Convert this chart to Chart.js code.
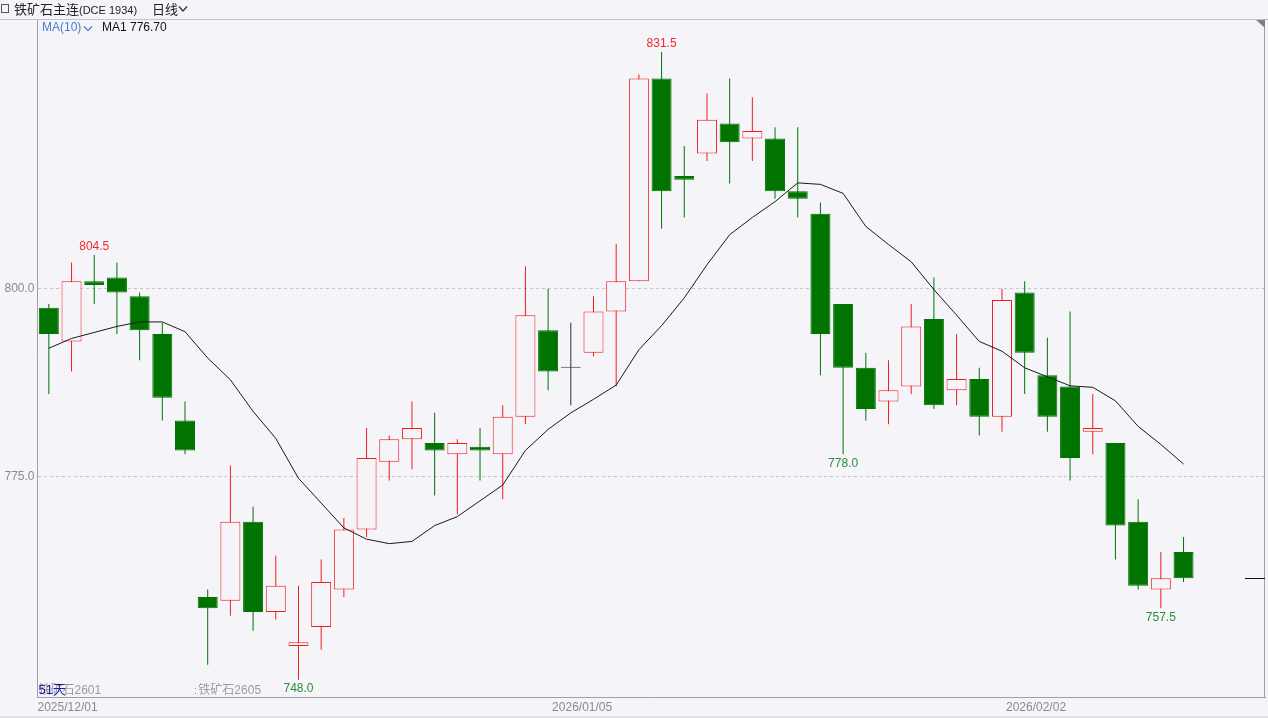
<!DOCTYPE html>
<html><head><meta charset="utf-8">
<script src="https://cdn.jsdelivr.net/npm/chart.js@4.4.1/dist/chart.umd.min.js"></script>
<style>
html,body{margin:0;padding:0;background:#e2e2e6;overflow:hidden;}
#wrap{position:relative;width:1268px;height:716px;background:#f4f4f9;}
#c{position:absolute;left:0;top:0;}
.t{position:absolute;white-space:nowrap;line-height:16px;}
.cjk{font:13px "Noto Sans CJK SC",sans-serif;color:#222;}
.lat{font:12px "Liberation Sans",Arial,sans-serif;}
</style></head>
<body>
<div id="wrap">
<canvas id="c" width="1268" height="716"></canvas>
<div class="t" style="left:1px;top:4px;width:6px;height:7px;border:1px solid #555;box-sizing:content-box;"></div>
<div class="t cjk" style="left:14px;top:-1px;">铁矿石主连</div>
<div class="t" style="left:79px;top:4px;font:11px 'Liberation Sans',Arial,sans-serif;color:#222;">(DCE 1934)</div>
<div class="t cjk" style="left:152px;top:-1px;">日线</div>
<svg style="position:absolute;left:178px;top:5px" width="10" height="8"><polyline points="1,1.5 5,6 9,1.5" fill="none" stroke="#333" stroke-width="1.3"/></svg>
<div class="t lat" style="left:42px;top:20px;color:#4a7bd6;">MA(10)</div>
<svg style="position:absolute;left:83px;top:25px" width="10" height="7"><polyline points="1,1.5 5,5.5 9,1.5" fill="none" stroke="#4a7bd6" stroke-width="1.2"/></svg>
<div class="t lat" id="maval" style="left:102px;top:20px;color:#111;"></div>
</div>
<script>
const dates = ['2025/12/01','2025/12/02','2025/12/03','2025/12/04','2025/12/05','2025/12/08','2025/12/09','2025/12/10','2025/12/11','2025/12/12',
'2025/12/15','2025/12/16','2025/12/17','2025/12/18','2025/12/19','2025/12/22','2025/12/23','2025/12/24','2025/12/25','2025/12/26',
'2025/12/29','2025/12/30','2025/12/31','2026/01/05','2026/01/06','2026/01/07','2026/01/08','2026/01/09','2026/01/12','2026/01/13',
'2026/01/14','2026/01/15','2026/01/16','2026/01/19','2026/01/20','2026/01/21','2026/01/22','2026/01/23','2026/01/26','2026/01/27',
'2026/01/28','2026/01/29','2026/01/30','2026/02/02','2026/02/03','2026/02/04','2026/02/05','2026/02/06','2026/02/09','2026/02/10','2026/02/11'];
const opens  = [797.5,793,801,801.5,799,794,782.5,759,758.5,769,757,752.5,755,760,768,777,780,779.5,778,779,778,783,794.5,789.5,791.5,797,801,828,815,818,822,820,820,813,810,798,789.5,785,787,796,786.5,788,783,799.5,788.5,787,781,779.5,769,760,765];
const highs  = [798,803.5,804.5,803.5,799.5,795.5,785,760,776.5,771,764.5,760.5,764,769.5,781.5,780.5,785,783.5,780,781.5,784.5,803,800,795.5,799,806,828.5,831.5,819,826,828,825.5,821.5,821.5,811.5,798,791.5,790.5,798,801.5,794,789.5,800,801,793.5,797,786,779.5,772,765,767];
const lows   = [786,789,798,794,790.5,782.5,778,750,756.5,754.5,756,748,752,759,767,774.5,776,772.5,770,774.5,772,782,786.5,784.5,791,787,801,808,809.5,817,814,817,812,809.5,788.5,778,782.5,782,786,784,784.5,780.5,781,786,781,774.5,778,764,760,757.5,761];
const closes = [794,801,800.5,799.5,794.5,785.5,778.5,757.5,769,757,760.5,753,761,768,777.5,780,781.5,778.5,779.5,778.5,783,796.5,789,789.5,797,801,828,813,814.5,822.5,819.5,821,813,812,794,789.5,784,786.5,795,784.5,788,783,798.5,791.5,783,777.5,781.5,768.5,760.5,761.5,761.5];
const ma10   = [792.1,793.4,794.2,795.0,795.6,795.6,794.3,790.8,787.9,783.7,780.1,774.8,771.5,768.2,766.7,766.1,766.4,768.5,769.7,771.8,773.9,778.5,781.3,783.5,785.3,787.2,791.9,795.1,798.8,803.2,807.2,809.5,811.6,814.1,813.9,812.7,808.3,805.9,803.6,799.9,796.5,793.0,791.7,789.5,788.3,787.1,786.9,785.1,781.7,779.3,776.7];
const tickIdx = [0, 23, 43];
const yTicks = [775, 800];
const hiMarks = [2, 27];
const loMarks = [11, 35, 49];
const contractNames = ['铁矿石2601', '铁矿石2605'];
const contractStart = [0, 7];

const UP = '#f21c1c', DN = '#007300', FLAT = '#333333', BG = '#f4f4f9';
const LBL_RED = '#f02a2a', LBL_GRN = '#2b8f3a';
const dir = i => closes[i] > opens[i] ? 1 : (closes[i] < opens[i] ? -1 : 0);
const col = i => dir(i) > 0 ? UP : (dir(i) < 0 ? DN : FLAT);
const idx = dates.map((d, i) => i);
const bodies = idx.map(i => ({x: i, y: [opens[i], closes[i]]}));
const wicks = idx.map(i => ({x: i, y: [lows[i], highs[i]]}));
const maPts = idx.map(i => ({x: i, y: ma10[i]}));
document.getElementById('maval').textContent = 'MA1 ' + ma10[ma10.length - 1].toFixed(2);

const FONT = '"Liberation Sans", "Noto Sans CJK SC", Arial, sans-serif';

const decor = {
  id: 'decor',
  afterDraw(chart) {
    const {ctx, chartArea: a, scales: {x, y}} = chart;
    ctx.save();
    ctx.strokeStyle = '#c4c4c8'; ctx.lineWidth = 1;
    ctx.beginPath(); ctx.moveTo(0, 19.5); ctx.lineTo(chart.width, 19.5); ctx.stroke();
    ctx.strokeStyle = '#a0a0a4';
    ctx.beginPath(); ctx.moveTo(Math.round(a.right) - 0.5, a.top); ctx.lineTo(Math.round(a.right) - 0.5, a.bottom); ctx.stroke();
    ctx.fillStyle = '#808084';
    ctx.beginPath(); ctx.moveTo(a.right - 9, 20); ctx.lineTo(a.right, 20); ctx.lineTo(a.right, 28); ctx.closePath(); ctx.fill();
    const yl = Math.round(y.getPixelForValue(closes[closes.length - 1])) + 0.5;
    ctx.strokeStyle = '#111';
    ctx.beginPath(); ctx.moveTo(a.right - 20, yl); ctx.lineTo(a.right, yl); ctx.stroke();
    ctx.font = '12px ' + FONT; ctx.textAlign = 'center'; ctx.textBaseline = 'middle';
    hiMarks.forEach(i => { ctx.fillStyle = LBL_RED; ctx.fillText(highs[i].toFixed(1), x.getPixelForValue(i), y.getPixelForValue(highs[i]) - 8); });
    loMarks.forEach(i => { ctx.fillStyle = LBL_GRN; ctx.fillText(lows[i].toFixed(1), x.getPixelForValue(i), y.getPixelForValue(lows[i]) + 9); });
    ctx.textAlign = 'left'; ctx.textBaseline = 'alphabetic';
    contractNames.forEach((n, k) => {
      const px = x.getPixelForValue(contractStart[k] - 0.5);
      ctx.fillStyle = '#9a9a9e';
      ctx.fillText(n, px + (k === 0 ? 1 : 2), a.bottom - 3);
      if (k > 0) {
        ctx.fillRect(Math.round(px) - 1, a.bottom - 9, 1, 1);
        ctx.fillRect(Math.round(px) - 1, a.bottom - 4, 1, 1);
      }
    });
    ctx.fillStyle = '#1c1ca8';
    ctx.font = '13px ' + FONT;
    ctx.fillText(dates.length + '天', a.left + 1, a.bottom - 3);
    ctx.restore();
  }
};

new Chart(document.getElementById('c'), {
  type: 'bar',
  data: {datasets: [
    {type: 'line', data: maPts, borderColor: '#1a1a1a', borderWidth: 1, pointRadius: 0, tension: 0, order: 0},
    {data: bodies, barThickness: 20, grouped: false, minBarLength: 1, borderSkipped: false, borderWidth: 1, inflateAmount: 0,
     backgroundColor: c => dir(c.dataIndex) > 0 ? BG : col(c.dataIndex), borderColor: c => col(c.dataIndex), order: 1},
    {data: wicks, barThickness: 1, grouped: false, borderWidth: 0, inflateAmount: 0,
     backgroundColor: c => col(c.dataIndex), order: 2}
  ]},
  options: {
    responsive: false, animation: false, devicePixelRatio: 1,
    layout: {padding: {left: 0, right: 1.5, top: 19, bottom: 0}},
    plugins: {legend: {display: false}, tooltip: {enabled: false}},
    scales: {
      x: {
        type: 'linear', min: -0.5, max: 53.59, offset: false,
        grid: {display: false, drawTicks: false},
        border: {display: true, color: '#a0a0a4'},
        afterBuildTicks(s) { s.ticks = tickIdx.map((k, j) => ({value: j === 0 ? k - 0.5 : k + 0.5})).concat([{value: s.max}]); },
        ticks: {autoSkip: false, maxRotation: 0, align: 'inner', padding: 3, color: '#8a8a8e',
          font: {family: FONT, size: 12},
          callback: (v, i) => i < tickIdx.length ? dates[tickIdx[i]] : ''},
        afterFit(s) { s.height = 19; }
      },
      y: {
        min: 745.7, max: 835.9, position: 'left',
        afterBuildTicks(s) { s.ticks = yTicks.map(v => ({value: v})); },
        grid: {color: '#c6c6ca', drawTicks: false, lineWidth: 1},
        border: {display: true, color: '#a0a0a4', dash: [3, 3]},
        ticks: {padding: 3, color: '#8a8a8e', font: {family: FONT, size: 12}, callback: v => Number(v).toFixed(1)},
        afterFit(s) { s.width = 37.5; }
      }
    }
  },
  plugins: [decor]
});
</script>
</body></html>
